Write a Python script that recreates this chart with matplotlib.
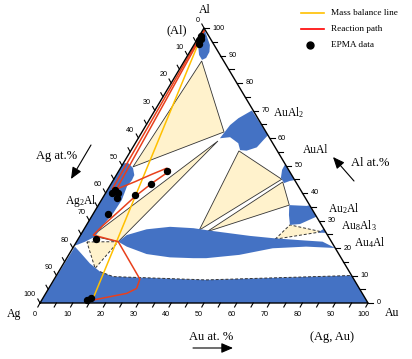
import numpy as np
import matplotlib
matplotlib.use('Agg')
import matplotlib.pyplot as plt
from matplotlib.lines import Line2D

plt.rcParams['font.family'] = ['Liberation Serif', 'DejaVu Serif']
plt.rcParams['mathtext.fontset'] = 'custom'
plt.rcParams['mathtext.rm'] = 'Liberation Serif'
plt.rcParams['mathtext.it'] = 'Liberation Serif:italic'

# all compositions as (Au at.%, Al at.%), Ag = balance
# single phase fields
fcc_au = [0, 100, 90, 46.4, 17.5, 12.6, 8.0, 3.8, 0.4]
fcc_al = [0, 0, 10, 8.4, 9.6, 11.4, 14.4, 17.8, 20.5]
ag2al_au = [0, 1.4, 3.8, 5.5, 5.7, 5.3, 6.2, 6.0, 5.1, 4.7, 2.6, 1.0, 0]
ag2al_al = [50.8, 50.9, 49.1, 46.5, 44.7, 42.5, 37.5, 32.6, 28.4, 24.1, 22.3, 21.3, 20.8]
mid_au = [12.7, 14.1, 19.1, 25.8, 33.2, 38.7, 51.8, 59.9, 69.7, 75, 80,
          70.9, 61, 52, 42.5, 38.6, 31.3, 23.6, 16.2]
mid_al = [22.3, 24.7, 26.8, 27.7, 27.2, 26.3, 24.4, 23.5, 22.7, 22.3, 20,
          20.5, 19.9, 17.5, 16.3, 16.3, 16.6, 17.8, 20.5]
alss_au = [0, 4.9, 6.0, 6.1, 5.2, 3.4, 1.3]
alss_al = [100, 93.8, 91.3, 89.1, 88.4, 90.2, 93.8]
aual2_au = [29.6, 26.9, 25.6, 24.9, 27.8, 31.4, 33.2, 35.3, 37.8, 38.5, 39]
aual2_al = [70, 67.2, 64.7, 59.9, 60.3, 58.1, 55.6, 55.4, 56.6, 59.3, 61]
aual_au = [49.5, 49.6, 50.7, 52.6, 54.0, 55.3]
aual_al = [50.5, 48.4, 45.5, 43.6, 44.4, 44.7]
au2al_au = [58.2, 63.7, 64.4, 68.6, 64.9, 62, 59.9]
au2al_al = [35.6, 35.3, 35.6, 31.4, 28.7, 28.4, 32]
au8al3_au = [72, 73, 74.5]
au8al3_al = [25.6, 27, 25.5]

# three phase triangles
tri_solid = [
    ([5.3, 3.6, 25.0], [88, 49.5, 62.2]),
    ([3.7, 12.7, 24.8], [24.4, 22.3, 58.9]),
    ([33.0, 35.3, 51.2], [55.3, 26.5, 45.0]),
    ([37.9, 52.0, 58.2], [25.9, 44.0, 35.6]),
]
tri_dashed = [
    ([3.2, 12.7, 10.5], [22.2, 22.3, 12.6]),
    ([60.1, 62, 72.9], [23.2, 28.4, 25.9]),
]
fcc_dash_au = [12.6, 17.5, 46.4, 90]
fcc_dash_al = [11.4, 9.6, 8.4, 10]

# mass balance line and reaction path
mb_au = [15.5, 0.4]
mb_al = [0.7, 98.9]
red_a_au = [0.3, 1.3]
red_a_al = [99, 41.5]
red_b_au = [0.6, 2.6]
red_b_al = [99, 42.0]
path_au = [2.5, 6.9, 10.7, 14.1, 15.5, 15.0, 12.3, 9.6, 7.3, 4.9, 3.9, 12.7,
           26.1, 26.8, 24.7, 20.2, 15.7]
path_al = [41.3, 44.1, 46.8, 49.0, 48.4, 47.3, 43.5, 38.7, 33.2, 27.7, 24.7, 22.3,
           8.7, 5.3, 3.5, 2.3, 1.1]

# EPMA points
epma_au = [0.4, 0.8, 1.4, 1.0, 2.0, 2.3, 3.8, 4.4, 4.5, 9.3, 12.1, 14.8, 5.5, 13.9, 14.6]
epma_al = [97.1, 95.6, 94.2, 96.0, 40.0, 41.1, 40.0, 38.2, 32.4, 39.3, 43.3, 48.1, 23.2, 1.1, 1.7]

ticks = np.arange(0, 101, 5)
tick_labels = np.arange(0, 101, 10)

BLUE = '#4472c4'
CREAM = '#fff2cc'
YELLOW = '#ffc000'
RED = '#e8401c'

W, H = 328.0, 275.0  # triangle base and height in pixels


def tern(au, al):
    au = np.asarray(au, float) / 100
    al = np.asarray(al, float) / 100
    return au + al / 2, al


def shift(x, y, dx, dy):
    return x + dx / W, y - dy / H


fig = plt.figure(figsize=(4.12, 3.59), dpi=100)
ax = fig.add_axes([0, 0, 1, 1])
ax.set_xlim(-40 / W, 372 / W)
ax.set_ylim(-56 / H, 303 / H)
ax.axis('off')

for au, al in tri_solid:
    x, y = tern(au, al)
    ax.fill(x, y, facecolor=CREAM, edgecolor='#333333', lw=0.6, zorder=1)
for au, al in tri_dashed:
    x, y = tern(au, al)
    ax.fill(x, y, facecolor=CREAM, edgecolor='#333333', lw=0.7, ls=(0, (3, 2)), zorder=1)

for au, al in [(fcc_au, fcc_al), (ag2al_au, ag2al_al), (mid_au, mid_al), (alss_au, alss_al),
               (aual2_au, aual2_al), (aual_au, aual_al), (au2al_au, au2al_al),
               (au8al3_au, au8al3_al)]:
    ax.fill(*tern(au, al), color=BLUE, lw=0, zorder=2)

ax.plot(*tern(fcc_dash_au, fcc_dash_al), color='#333333', lw=0.7, ls=(0, (3, 2)), zorder=3)

ax.plot(*tern(mb_au, mb_al), color=YELLOW, lw=1.1, zorder=4)
ax.plot(*tern(red_a_au, red_a_al), color=RED, lw=1.1, zorder=4)
ax.plot(*tern(red_b_au, red_b_al), color=RED, lw=1.1, zorder=4)
ax.plot(*tern(path_au, path_al), color=RED, lw=1.1, zorder=4)
ax.plot(*tern(epma_au, epma_al), 'o', color='black', ms=4.3, zorder=5)

# outer triangle
ax.plot(*tern([0, 100, 0, 0], [0, 0, 100, 0]), color='black', lw=1.0, zorder=6,
        solid_joinstyle='miter')

# ticks
for t in ticks:
    x, y = tern(t, 0)  # Au axis, bottom
    ax.plot([x, shift(x, y, -2.2, 4)[0]], [y, shift(x, y, -2.2, 4)[1]], color='black', lw=0.8)
    x, y = tern(100 - t, t)  # Al axis, right
    ax.plot([x, shift(x, y, 5, 0)[0]], [y, y], color='black', lw=0.8)
    x, y = tern(0, 100 - t)  # Ag axis, left
    ax.plot([x, shift(x, y, -2.2, -4)[0]], [y, shift(x, y, -2.2, -4)[1]], color='black', lw=0.8)

tfont = dict(family='Liberation Sans', fontsize=5.2)
for t in tick_labels:
    x, y = tern(t, 0)
    ax.text(*shift(x, y, -5, 11), str(t), ha='center', va='center', **tfont)
    x, y = tern(100 - t, t)
    ax.text(*shift(x, y, 8.5, 0), str(t), ha='left', va='center', **tfont)
    x, y = tern(0, 100 - t)
    ax.text(*shift(x, y, -4, -8), str(t), ha='right', va='center', **tfont)


def ftext(px, py, s, **kw):
    fig.text(px / 412, 1 - py / 359, s, **kw)


ftext(205, 10, 'Al', ha='center', va='center', fontsize=8.5)
ftext(14, 314, 'Ag', ha='center', va='center', fontsize=8.5)
ftext(392, 313, 'Au', ha='center', va='center', fontsize=8.5)
ftext(177, 30, '(Al)', ha='center', va='center', fontsize=9)
ftext(332, 337, '(Ag, Au)', ha='center', va='center', fontsize=9)
ftext(211, 337, 'Au at. %', ha='center', va='center', fontsize=9)
ftext(57, 156, 'Ag at.%', ha='center', va='center', fontsize=9)
ftext(370, 163, 'Al at.%', ha='center', va='center', fontsize=9)
ftext(273, 113, r'AuAl$_2$', ha='left', va='center', fontsize=8.3)
ftext(303, 150, 'AuAl', ha='left', va='center', fontsize=8.3)
ftext(328, 209, r'Au$_2$Al', ha='left', va='center', fontsize=8.3)
ftext(341, 226, r'Au$_8$Al$_3$', ha='left', va='center', fontsize=8.3)
ftext(354, 243, r'Au$_4$Al', ha='left', va='center', fontsize=8.3)
ftext(81, 201, r'Ag$_2$Al', ha='center', va='center', fontsize=8.3)

arrow = dict(arrowstyle='-|>,head_length=0.7,head_width=0.3', color='black', lw=0.8,
             mutation_scale=10, shrinkA=0, shrinkB=0)
for (x0, y0), (x1, y1) in [((193, 348), (233, 348)), ((91, 145), (71, 179)),
                           ((354, 181), (333, 157))]:
    ax.annotate('', xy=(x1, 359 - y1), xytext=(x0, 359 - y0),
                xycoords='figure pixels', textcoords='figure pixels', arrowprops=arrow)

# legend
for py, col, lab in [(12.7, YELLOW, 'Mass balance line'), (29.3, '#ff0000', 'Reaction path')]:
    fig.add_artist(Line2D([301 / 412, 324 / 412], [1 - py / 359, 1 - py / 359],
                          color=col, lw=1.2, transform=fig.transFigure))
    ftext(331, py, lab, ha='left', va='center', fontsize=6.7)
fig.add_artist(Line2D([310 / 412], [1 - 45 / 359], marker='o', ms=5, color='black',
                      transform=fig.transFigure))
ftext(331, 45, 'EPMA data', ha='left', va='center', fontsize=6.7)

fig.savefig('out.png', dpi=100)
